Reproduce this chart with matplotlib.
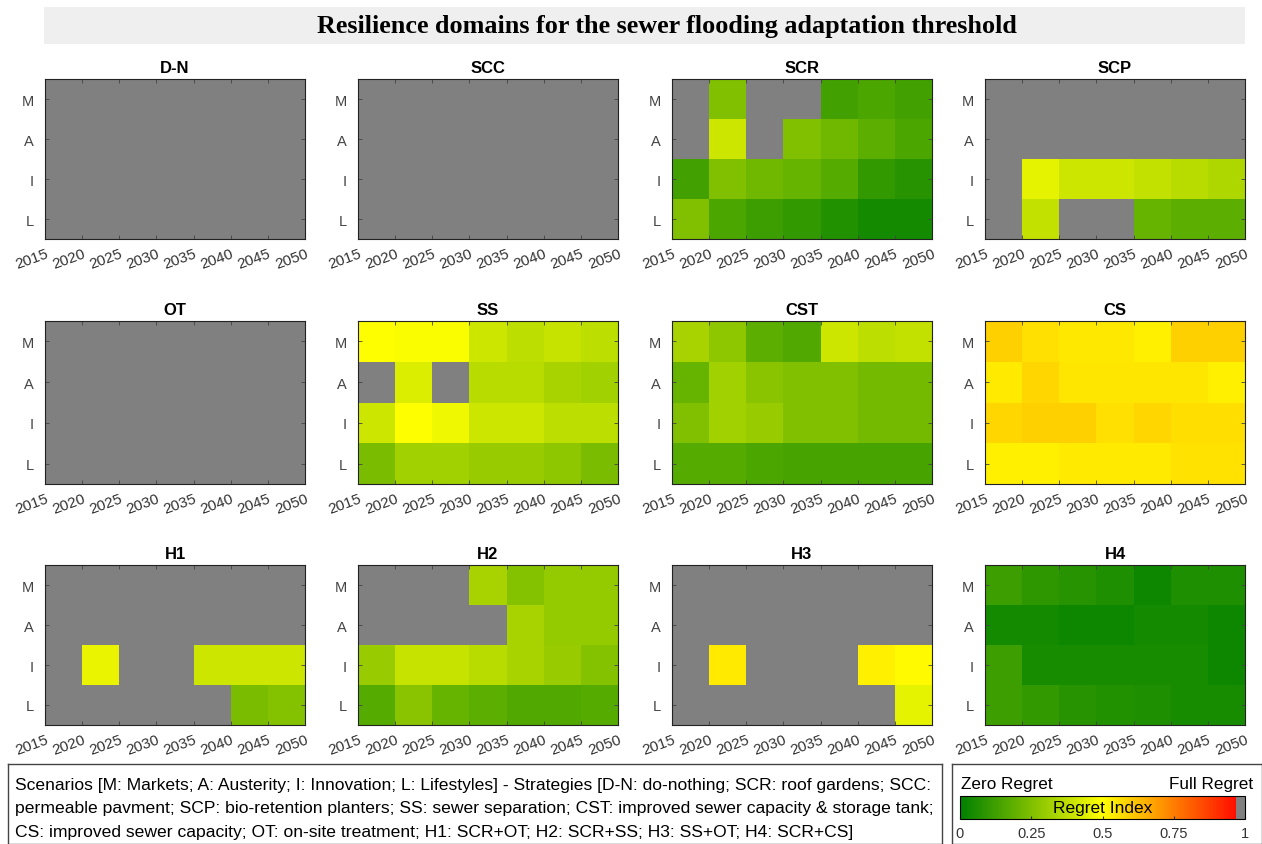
import matplotlib
matplotlib.use('Agg')
import matplotlib.pyplot as plt
import numpy as np
from matplotlib.colors import LinearSegmentedColormap, ListedColormap

nan = np.nan

years = [2015, 2020, 2025, 2030, 2035, 2040, 2045, 2050]
scenarios = ['M', 'A', 'I', 'L']  # top to bottom
strategies = ['D-N', 'SCC', 'SCR', 'SCP', 'OT', 'SS', 'CST', 'CS', 'H1', 'H2', 'H3', 'H4']

# regret index per strategy, rows M, A, I, L ; nan = not resilient
dn = [[nan] * 7] * 4
scc = [[nan] * 7] * 4
ot = [[nan] * 7] * 4
scr = [[nan, 0.25, nan, nan, 0.13, 0.15, 0.13],
       [nan, 0.40, nan, 0.25, 0.22, 0.18, 0.15],
       [0.13, 0.25, 0.22, 0.20, 0.17, 0.10, 0.08],
       [0.25, 0.15, 0.12, 0.10, 0.07, 0.04, 0.04]]
scp = [[nan] * 7,
       [nan] * 7,
       [nan, 0.45, 0.40, 0.40, 0.38, 0.36, 0.34],
       [nan, 0.38, nan, nan, 0.20, 0.18, 0.18]]
ss = [[0.50, 0.49, 0.49, 0.40, 0.37, 0.39, 0.37],
      [nan, 0.43, nan, 0.36, 0.36, 0.33, 0.32],
      [0.40, 0.50, 0.47, 0.40, 0.40, 0.37, 0.37],
      [0.24, 0.32, 0.32, 0.30, 0.30, 0.28, 0.24]]
cst = [[0.33, 0.28, 0.18, 0.16, 0.40, 0.37, 0.38],
       [0.20, 0.32, 0.27, 0.25, 0.25, 0.23, 0.23],
       [0.25, 0.32, 0.30, 0.25, 0.25, 0.23, 0.23],
       [0.17, 0.17, 0.15, 0.14, 0.14, 0.14, 0.14]]
cs = [[0.59, 0.56, 0.545, 0.545, 0.53, 0.59, 0.59],
      [0.54, 0.58, 0.55, 0.55, 0.55, 0.55, 0.53],
      [0.58, 0.59, 0.59, 0.56, 0.58, 0.565, 0.565],
      [0.53, 0.53, 0.54, 0.54, 0.54, 0.555, 0.555]]
h1 = [[nan] * 7,
      [nan] * 7,
      [nan, 0.46, nan, nan, 0.40, 0.40, 0.40],
      [nan, nan, nan, nan, nan, 0.24, 0.26]]
h2 = [[nan, nan, nan, 0.33, 0.26, 0.29, 0.29],
      [nan, nan, nan, nan, 0.33, 0.29, 0.29],
      [0.30, 0.39, 0.39, 0.36, 0.33, 0.30, 0.26],
      [0.17, 0.27, 0.20, 0.18, 0.16, 0.16, 0.17]]
h3 = [[nan] * 7,
      [nan] * 7,
      [nan, 0.54, nan, nan, nan, 0.53, 0.51],
      [nan, nan, nan, nan, nan, nan, 0.45]]
h4 = [[0.12, 0.09, 0.08, 0.06, 0.03, 0.06, 0.06],
      [0.04, 0.04, 0.03, 0.03, 0.04, 0.04, 0.03],
      [0.12, 0.05, 0.05, 0.05, 0.05, 0.05, 0.03],
      [0.12, 0.10, 0.08, 0.07, 0.06, 0.05, 0.05]]
data = [dn, scc, scr, scp, ot, ss, cst, cs, h1, h2, h3, h4]

note = ('Scenarios [M: Markets; A: Austerity; I: Innovation; L: Lifestyles] - Strategies [D-N: do-nothing; SCR: roof gardens; SCC:\n'
        'permeable pavment; SCP: bio-retention planters; SS: sewer separation; CST: improved sewer capacity & storage tank;\n'
        'CS: improved sewer capacity; OT: on-site treatment; H1: SCR+OT; H2: SCR+SS; H3: SS+OT; H4: SCR+CS]')

W, H = 1262, 845
fig = plt.figure(figsize=(W / 100, H / 100), dpi=100)
plt.rcParams['font.family'] = ['Liberation Sans', 'DejaVu Sans']

def px_axes(x0, y0, x1, y1):
    return fig.add_axes([x0 / W, 1 - y1 / H, (x1 - x0) / W, (y1 - y0) / H])

base = LinearSegmentedColormap.from_list('regret', [(0, 0.5, 0), (1, 1, 0), (1, 0, 0)])
cols = base(np.linspace(0, 0.97, 248))
grey = np.array([[0.5, 0.5, 0.5, 1.0]] * 8)
cmap = ListedColormap(np.vstack([cols, grey]))
cmap.set_bad((0.5, 0.5, 0.5))

# title band
tax = px_axes(44, 8, 1245, 45)
tax.set_facecolor('#efefef')
tax.set_xticks([]); tax.set_yticks([])
for s in tax.spines.values():
    s.set_visible(False)
tax.text(0.519, 0.5, 'Resilience domains for the sewer flooding adaptation threshold',
         ha='center', va='center', fontsize=18.8, fontweight='bold', family='Liberation Serif',
         transform=tax.transAxes)

col_x = [45, 358, 672, 985]
row_y = [(80, 240), (322, 485), (566, 726)]
for k, name in enumerate(strategies):
    r, c = divmod(k, 4)
    ax = px_axes(col_x[c], row_y[r][0], col_x[c] + 260, row_y[r][1])
    z = np.ma.masked_invalid(np.array(data[k], dtype=float)[::-1])
    ax.pcolormesh(years, np.arange(5), z, cmap=cmap, vmin=0, vmax=1)
    ax.set_facecolor((0.5, 0.5, 0.5))
    ax.set_xlim(2015, 2050)
    ax.set_ylim(0, 4)
    ax.set_xticks(years)
    ax.set_xticklabels([str(y) for y in years], rotation=20, ha='right',
                       rotation_mode='anchor', fontsize=11, color='#333333')
    ax.set_yticks(np.arange(4) + 0.5)
    ax.set_yticklabels(scenarios[::-1], fontsize=10.5, color='#444444')
    ax.tick_params(direction='in', length=3, width=0.6, top=True, right=True, color='#444444')
    ax.tick_params(axis='y', pad=8)
    ax.tick_params(axis='x', pad=5)
    for s in ax.spines.values():
        s.set_linewidth(0.8)
        s.set_color('#222222')
    ax.set_title(name, fontsize=12, fontweight='bold', pad=5)

# explanatory box
nax = px_axes(8, 765, 942, 845)
nax.set_xticks([]); nax.set_yticks([])
for s in nax.spines.values():
    s.set_linewidth(1.0)
    s.set_color('#444444')
nax.text(0.008, 0.45, note, ha='left', va='center', fontsize=12.6, linespacing=1.7,
         transform=nax.transAxes)

# colorbar box
bax = px_axes(952, 765, 1262, 845)
bax.set_xticks([]); bax.set_yticks([])
for s in bax.spines.values():
    s.set_linewidth(1.0)
    s.set_color('#444444')
bax.text(0.03, 0.76, 'Zero Regret', ha='left', va='center', fontsize=12.3, transform=bax.transAxes)
bax.text(0.97, 0.76, 'Full Regret', ha='right', va='center', fontsize=12.3, transform=bax.transAxes)

cax = px_axes(960, 797, 1245, 820)
sm = plt.cm.ScalarMappable(cmap=cmap, norm=plt.Normalize(0, 1))
cb = fig.colorbar(sm, cax=cax, orientation='horizontal')
cb.set_ticks([0, 0.25, 0.5, 0.75, 1])
cb.set_ticklabels(['0', '0.25', '0.5', '0.75', '1'])
cb.ax.tick_params(labelsize=10.5, direction='in', length=2, colors='#333333', pad=5)
cb.outline.set_linewidth(0.8)
cax.text(0.5, 0.5, 'Regret Index', ha='center', va='center', fontsize=12.5, transform=cax.transAxes)

fig.savefig('out.png', dpi=100)
